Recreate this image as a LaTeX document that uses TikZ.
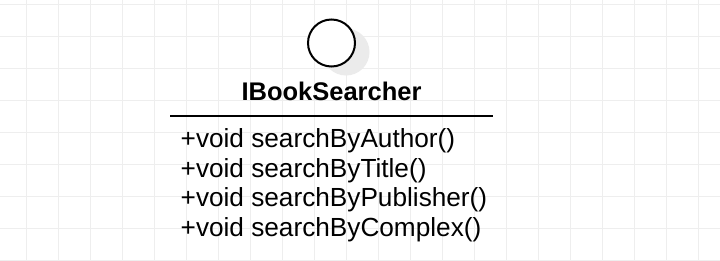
\documentclass[tikz,border=0pt]{standalone}
\usepackage{fontspec}
\newfontfamily\umlfont{Liberation Sans}
\definecolor{gridgray}{HTML}{EEEEEE}
\definecolor{shadowgray}{HTML}{EBEBEB}
\begin{document}
\begin{tikzpicture}[x=1pt,y=-1pt,
  gridline/.style={draw=gridgray,line width=1pt},
  ifacecircle/.style={circle,draw=black,fill=white,line width=2pt,minimum size=47pt,inner sep=0pt},
  ifaceshadow/.style={circle,fill=shadowgray,minimum size=47pt,inner sep=0pt},
  classname/.style={font=\umlfont\bfseries\fontsize{25.5}{29.5}\selectfont,inner sep=0pt,anchor=base},
  member/.style={font=\umlfont\fontsize{26.2}{29.7}\selectfont,inner sep=0pt,anchor=base west},
  divider/.style={line width=2pt}]
  \useasboundingbox (0,0) rectangle (720,260);
  \fill[white] (0,0) rectangle (720,260);
  % background grid
  \foreach \gx in {26.5,58.5,...,720} \draw[gridline] (\gx,0) -- (\gx,260);
  \foreach \gy in {4,36,...,260} \draw[gridline] (0,\gy) -- (720,\gy);
  % interface lollipop with its shadow
  \node[ifaceshadow] (ifaceshadow) at (346,52) {};
  \node[ifacecircle] (iface) at (331.5,43) {};
  % class name and divider
  \node[classname] (title) at (331.5,100.5) {IBookSearcher};
  \coordinate (divL) at (170,116);
  \coordinate (divR) at (493,116);
  \draw[divider] (divL) -- (divR);
  % operations
  \node[member] (m1) at (180.5,147.5) {+void searchByAuthor()};
  \node[member] (m2) at (180.5,177.2) {+void searchByTitle()};
  \node[member] (m3) at (180.5,206.9) {+void searchByPublisher()};
  \node[member] (m4) at (180.5,236.6) {+void searchByComplex()};
\end{tikzpicture}
\end{document}
